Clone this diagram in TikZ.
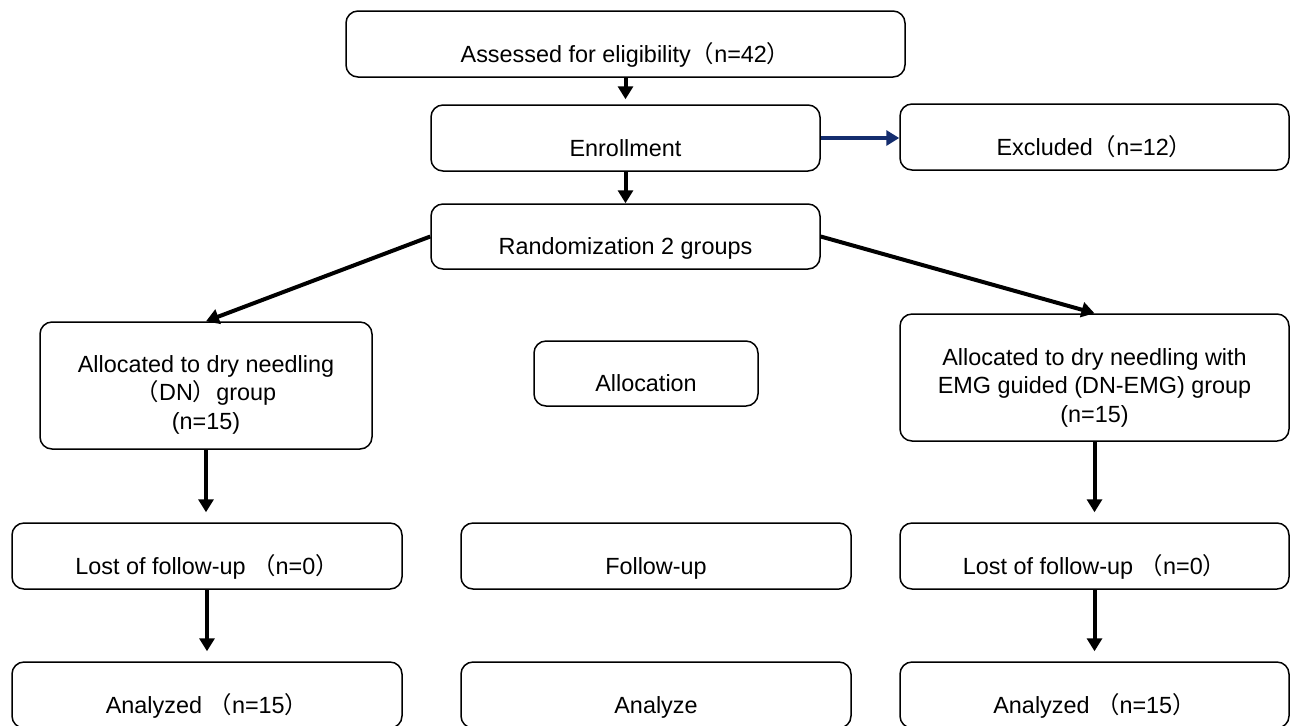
\documentclass[tikz,border=0pt]{standalone}
\usepackage{fontspec}
\setmainfont{Liberation Sans}
\newfontfamily\cjk{Noto Sans CJK SC}
\newcommand\flp{{\cjk （}}
\newcommand\frp{{\cjk ）}}
\usetikzlibrary{arrows.meta}
\definecolor{navy}{RGB}{20,45,110}
\tikzset{
  box/.style={draw, rounded corners=6pt, line width=0.75pt, align=center,
    inner sep=0pt, font=\fontsize{11.7}{14.3}\selectfont},
  onebox/.style={box, text height=2.1em, text depth=0.3em},
  arr/.style={line width=2pt, -{Triangle[length=6.5pt,width=7.5pt]}},
}
\begin{document}
\begin{tikzpicture}[x=0.5pt, y=-0.5pt]
  \useasboundingbox (0,0) rectangle (1290,725);
  % top of the chart
  \node[onebox, minimum width=279.5pt, minimum height=33pt] (assess) at (625.5,44) {Assessed for eligibility\flp n=42\frp};
  \node[onebox, minimum width=194.5pt, minimum height=33pt] (enroll) at (625.5,138) {Enrollment};
  \node[onebox, minimum width=194.5pt, minimum height=33pt] (excl) at (1094.5,137) {Excluded\flp n=12\frp};
  \node[onebox, minimum width=194.5pt, minimum height=32.5pt] (random) at (625.5,236.5) {Randomization 2 groups};
  % allocation
  \node[box, minimum width=166pt, minimum height=63.5pt] (dn) at (206,385.5) {\rule{0pt}{1.5em}Allocated to dry needling\\\flp DN\frp group\\(n=15)};
  \node[onebox, minimum width=112pt, minimum height=32.5pt] (alloc) at (646,373.5) {Allocation};
  \node[box, minimum width=194.5pt, minimum height=63.5pt] (dnemg) at (1094.5,377.5) {\rule{0pt}{1.6em}Allocated to dry needling with\\EMG guided (DN-EMG) group\\(n=15)};
  % follow-up
  \node[onebox, minimum width=195pt, minimum height=33pt] (lostl) at (207,556) {Lost of follow-up \flp n=0\frp};
  \node[onebox, minimum width=195pt, minimum height=33pt] (follow) at (656,556) {Follow-up};
  \node[onebox, minimum width=194.5pt, minimum height=33pt] (lostr) at (1094.5,556) {Lost of follow-up \flp n=0\frp};
  % analysis
  \node[onebox, minimum width=195pt, minimum height=33pt] (anl) at (207,695) {Analyzed \flp n=15\frp};
  \node[onebox, minimum width=195pt, minimum height=33pt] (ana) at (656,695) {Analyze};
  \node[onebox, minimum width=194.5pt, minimum height=33pt] (anr) at (1094.5,695) {Analyzed \flp n=15\frp};

  \draw[arr, shorten >=2.5pt] (assess) -- (enroll);
  \draw[arr, navy] (enroll.east) -- (enroll.east -| excl.west);
  \draw[arr] (enroll) -- (random);
  \draw[arr] (random.west) -- (dn.north);
  \draw[arr] (random.east) -- (dnemg.north);
  \draw[arr, shorten >=5pt] (dn.south) -- (dn.south |- lostl.north);
  \draw[arr, shorten >=5pt] (lostl) -- (anl);
  \draw[arr, shorten >=5pt] (dnemg) -- (lostr);
  \draw[arr, shorten >=5pt] (lostr) -- (anr);
\end{tikzpicture}
\end{document}
